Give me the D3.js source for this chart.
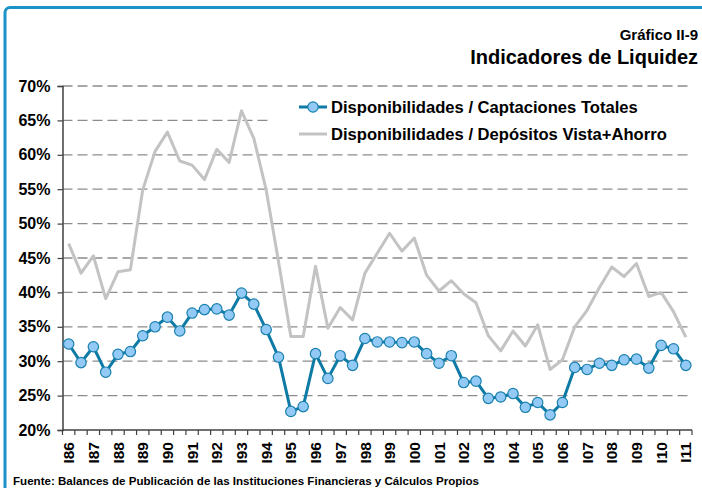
<!DOCTYPE html>
<html>
<head>
<meta charset="utf-8">
<script src="https://cdn.jsdelivr.net/npm/d3@7"></script>
<style>
  body { margin: 0; background: #fff; }
  svg text { font-family: "Liberation Sans", Arial, sans-serif; font-weight: bold; fill: #000; }
</style>
</head>
<body>
<div id="chart"></div>
<script>
// semesters I86 .. I11
let categories = ['I86','II86','I87','II87','I88','II88','I89','II89','I90','II90',
	'I91','II91','I92','II92','I93','II93','I94','II94','I95','II95',
	'I96','II96','I97','II97','I98','II98','I99','II99','I00','II00',
	'I01','II01','I02','II02','I03','II03','I04','II04','I05','II05',
	'I06','II06','I07','II07','I08','II08','I09','II09','I10','II10','I11']

let tickLabels = ['I86','I87','I88','I89','I90','I91','I92','I93','I94','I95','I96','I97','I98',
	'I99','I00','I01','I02','I03','I04','I05','I06','I07','I08','I09','I10','I11']

let yTicks = [20, 25, 30, 35, 40, 45, 50, 55, 60, 65, 70]

let captaciones = [32.5,29.8,32.1,28.4,31.0,31.4,33.7,35.0,36.4,34.4,
	37.0,37.5,37.6,36.7,39.9,38.3,34.6,30.6,22.7,23.4,
	31.1,27.5,30.8,29.4,33.3,32.8,32.8,32.7,32.8,31.1,
	29.7,30.8,26.9,27.1,24.6,24.8,25.3,23.3,24.0,22.2,
	24.0,29.1,28.8,29.7,29.4,30.2,30.3,29.0,32.3,31.8,29.4]

let depositos = [47.1,42.8,45.3,39.1,43.0,43.3,54.9,60.5,63.3,59.1,
	58.5,56.4,60.8,58.9,66.4,62.4,54.9,44.5,33.6,33.6,
	43.8,34.8,37.8,36.0,42.8,45.7,48.6,46.0,47.9,42.5,
	40.2,41.7,39.8,38.5,33.7,31.5,34.4,32.2,35.3,28.8,
	30.2,35.0,37.4,40.7,43.7,42.3,44.2,39.4,40.0,37.2,33.5]

let seriesNames = ['Disponibilidades / Captaciones Totales', 'Disponibilidades / Depósitos Vista+Ahorro']

let W = 702, H = 488
let plotL = 62.5, plotR = 692, plotT = 86, plotB = 430

let svg = d3.select('#chart')
	.append('svg:svg')
	.attr('width', W)
	.attr('height', H)

// blue frame
svg.append('rect')
	.attr('x', 5).attr('y', 7.5)
	.attr('width', 720).attr('height', 520)
	.attr('rx', 5)
	.attr('fill', 'none')
	.attr('stroke', '#1b93c8')
	.attr('stroke-width', 3)

svg.append('text')
	.attr('x', 698).attr('y', 40)
	.attr('text-anchor', 'end')
	.attr('font-size', 15)
	.text('Gráfico II-9')

svg.append('text')
	.attr('x', 698).attr('y', 64)
	.attr('text-anchor', 'end')
	.attr('font-size', 20)
	.text('Indicadores de Liquidez')

let x = d3.scaleBand().domain(categories).range([plotL, plotR])
let y = d3.scaleLinear().domain([20, 70]).range([plotB, plotT])
let cx = d => x(d) + x.bandwidth() / 2

// grid
svg.append('g')
	.selectAll('line')
	.data(yTicks.slice(1))
	.join('line')
	.attr('x1', plotL).attr('x2', plotR)
	.attr('y1', d => y(d)).attr('y2', d => y(d))
	.attr('stroke', '#8c8c8c')
	.attr('stroke-width', 1.3)
	.attr('stroke-dasharray', '10,5')

// y axis
let yAxis = svg.append('g')
	.attr('transform', `translate(${plotL},0)`)
	.call(d3.axisLeft(y).tickValues(yTicks).tickSize(5).tickFormat(d => d + '%'))
yAxis.select('.domain').attr('stroke', '#404040').attr('stroke-width', 1.5)
yAxis.selectAll('.tick line').attr('stroke', '#404040').attr('stroke-width', 1.2)
yAxis.selectAll('.tick text')
	.attr('x', -12)
	.attr('font-size', 16)
	.attr('fill', '#000')
yAxis.attr('font-family', null).attr('font-size', null)

// x axis: ticks between categories
let xAxis = svg.append('g')
svg.append('line')
	.attr('x1', plotL).attr('x2', plotR)
	.attr('y1', plotB).attr('y2', plotB)
	.attr('stroke', '#404040')
	.attr('stroke-width', 1.5)
xAxis.selectAll('line')
	.data(categories.concat(['end']))
	.join('line')
	.attr('x1', d => d === 'end' ? plotR : x(d))
	.attr('x2', d => d === 'end' ? plotR : x(d))
	.attr('y1', plotB).attr('y2', plotB + 5)
	.attr('stroke', '#404040')
	.attr('stroke-width', 1.2)
xAxis.selectAll('text')
	.data(tickLabels)
	.join('text')
	.attr('transform', d => `translate(${cx(d)},${plotB + 12}) rotate(-90)`)
	.attr('text-anchor', 'end')
	.attr('dy', '0.36em')
	.attr('font-size', 15.5)
	.text(d => d)

// series
let line = d3.line().x((d, i) => cx(categories[i])).y(d => y(d))

svg.append('path')
	.datum(depositos)
	.attr('d', line)
	.attr('fill', 'none')
	.attr('stroke', '#c3c3c3')
	.attr('stroke-width', 3)
	.attr('stroke-linejoin', 'round')

svg.append('path')
	.datum(captaciones)
	.attr('d', line)
	.attr('fill', 'none')
	.attr('stroke', '#0e7ba6')
	.attr('stroke-width', 3)
	.attr('stroke-linejoin', 'round')

svg.append('g')
	.selectAll('circle')
	.data(captaciones)
	.join('circle')
	.attr('cx', (d, i) => cx(categories[i]))
	.attr('cy', d => y(d))
	.attr('r', 5.2)
	.attr('fill', '#93c9f5')
	.attr('stroke', '#1980ae')
	.attr('stroke-width', 1.2)

// legend
let legend = svg.append('g')
legend.append('rect')
	.attr('x', 268).attr('y', 92)
	.attr('width', 420).attr('height', 55)
	.attr('fill', '#fff')
let rows = [107, 134]
rows.forEach((ry, i) => {
	legend.append('line')
		.attr('x1', 299).attr('x2', 327)
		.attr('y1', ry).attr('y2', ry)
		.attr('stroke', i === 0 ? '#0e7ba6' : '#c3c3c3')
		.attr('stroke-width', 3)
	if (i === 0) {
		legend.append('circle')
			.attr('cx', 313).attr('cy', ry).attr('r', 5.2)
			.attr('fill', '#93c9f5')
			.attr('stroke', '#1980ae')
			.attr('stroke-width', 1.2)
	}
	legend.append('text')
		.attr('x', 331).attr('y', ry + 6)
		.attr('font-size', 16.6)
		.text(seriesNames[i])
})

svg.append('text')
	.attr('x', 13).attr('y', 485)
	.attr('font-size', 10.5)
	.attr('textLength', 466)
	.attr('lengthAdjust', 'spacingAndGlyphs')
	.text('Fuente: Balances de Publicación de las Instituciones Financieras y Cálculos Propios')
</script>
</body>
</html>
